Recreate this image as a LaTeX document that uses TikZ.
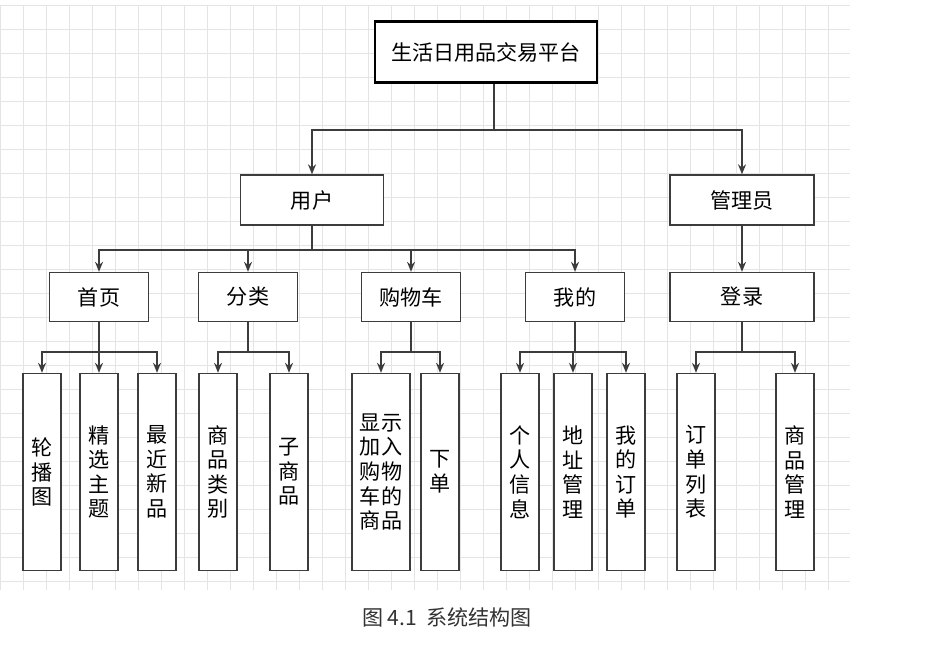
\documentclass[tikz,border=0pt]{standalone}
\usepackage{fontspec}
\setmainfont{Noto Sans CJK SC}
\usetikzlibrary{arrows.meta, positioning, calc}
\definecolor{gridGray}{RGB}{228, 228, 228}
\definecolor{lineGray}{RGB}{60, 60, 60}

\begin{document}
\begin{tikzpicture}[
    x=0.02cm, y=-0.02cm,
    font=\large,
    % Cajas
    box/.style={
        draw=lineGray,
        fill=white,
        line width=0.8pt,
        align=center,
        inner sep=0pt
    },
    % Hojas verticales
    leaf/.style={
        box,
        minimum width=38*0.02cm,
        minimum height=197*0.02cm
    },
    % Flechas
    arrow/.style={
        -{Stealth[length=2mm, width=1.6mm]},
        line width=0.8pt,
        lineGray
    },
    link/.style={line width=0.8pt, lineGray}
]

    % --- Fondo cuadriculado ---
    \useasboundingbox (0,0) rectangle (930,654);
    \fill[white] (0,0) rectangle (930,654);
    \foreach \gx in {0,23,...,850} \draw[gridGray] (\gx,5) -- (\gx,590);
    \foreach \gy in {5,29,...,590} \draw[gridGray] (0,\gy) -- (850,\gy);

    % --- Nivel 0 ---
    \node[box, line width=1.6pt, draw=black, minimum width=222*0.02cm, minimum height=61*0.02cm] (root) at (486,52) {生活日用品交易平台};

    % --- Nivel 1 ---
    \node[box, minimum width=143*0.02cm, minimum height=50*0.02cm] (user) at (312,200) {用户};
    \node[box, minimum width=144*0.02cm, minimum height=50*0.02cm] (admin) at (742,200) {管理员};

    % --- Nivel 2 ---
    \node[box, minimum width=99*0.02cm, minimum height=49*0.02cm] (home) at (99,297) {首页};
    \node[box, minimum width=99*0.02cm, minimum height=49*0.02cm] (cat) at (248,297) {分类};
    \node[box, minimum width=99*0.02cm, minimum height=49*0.02cm] (cart) at (411,297) {购物车};
    \node[box, minimum width=99*0.02cm, minimum height=49*0.02cm] (mine) at (575,297) {我的};
    \node[box, minimum width=144*0.02cm, minimum height=49*0.02cm] (login) at (742,297) {登录};

    % --- Hojas ---
    \node[leaf] (banner) at (42,472) {轮\\播\\图};
    \node[leaf] (topic) at (99,472) {精\\选\\主\\题};
    \node[leaf] (newest) at (157,472) {最\\近\\新\\品};
    \node[leaf] (goodscat) at (218,472) {商\\品\\类\\别};
    \node[leaf] (subgoods) at (289,472) {子\\商\\品};
    \node[leaf, minimum width=58*0.02cm] (incart) at (381,472) {显示\\加入\\购物\\车的\\商品};
    \node[leaf] (order) at (440,472) {下\\单};
    \node[leaf] (info) at (520,472) {个\\人\\信\\息};
    \node[leaf] (addr) at (573,472) {地\\址\\管\\理};
    \node[leaf] (myorder) at (626,472) {我\\的\\订\\单};
    \node[leaf] (orderlist) at (696,472) {订\\单\\列\\表};
    \node[leaf] (goodsmgr) at (795,472) {商\\品\\管\\理};

    % --- Conexiones ---
    \coordinate (bus_root) at (494,130);
    \draw[link] (root.south -| bus_root) -- (bus_root);
    \foreach \c in {user, admin} \draw[arrow] (bus_root) -| (\c.north);

    \coordinate (bus_user) at (312,250);
    \draw[link] (user.south) -- (bus_user);
    \foreach \c in {home, cat, cart, mine} \draw[arrow] (bus_user) -| (\c.north);

    \draw[arrow] (admin) -- (login);

    \coordinate (bus_home) at (99,352);
    \draw[link] (home.south) -- (bus_home);
    \foreach \c in {banner, topic, newest} \draw[arrow] (bus_home) -| (\c.north);

    \coordinate (bus_cat) at (248,352);
    \draw[link] (cat.south) -- (bus_cat);
    \foreach \c in {goodscat, subgoods} \draw[arrow] (bus_cat) -| (\c.north);

    \coordinate (bus_cart) at (411,352);
    \draw[link] (cart.south) -- (bus_cart);
    \foreach \c in {incart, order} \draw[arrow] (bus_cart) -| (\c.north);

    \coordinate (bus_mine) at (575,352);
    \draw[link] (mine.south) -- (bus_mine);
    \foreach \c in {info, addr, myorder} \draw[arrow] (bus_mine) -| (\c.north);

    \coordinate (bus_login) at (742,352);
    \draw[link] (login.south) -- (bus_login);
    \foreach \c in {orderlist, goodsmgr} \draw[arrow] (bus_login) -| (\c.north);

    % --- Pie de figura ---
    \node[font=\large, text=black!80] (caption) at (447,617) {图 4.1\ \ 系统结构图};

\end{tikzpicture}
\end{document}
